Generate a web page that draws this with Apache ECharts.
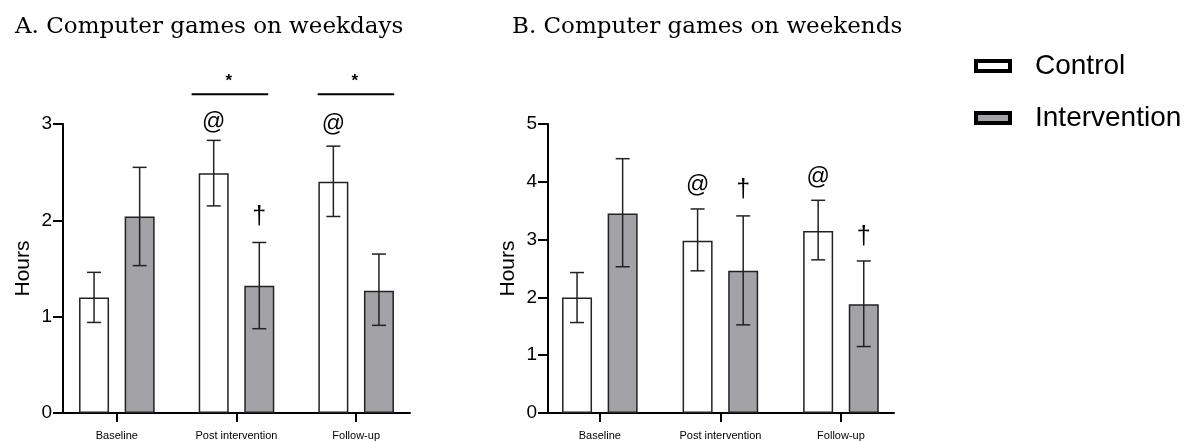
<!DOCTYPE html>
<html>
<head>
<meta charset="utf-8">
<script src="https://cdn.jsdelivr.net/npm/echarts@6/dist/echarts.min.js"></script>
<style>
html,body{margin:0;padding:0;background:#fff;}
#chart{width:1189px;height:441px;}
</style>
</head>
<body>
<div id="chart"></div>
<script>
// ---- data ----
const categories = ['Baseline', 'Post intervention', 'Follow-up'];
const yTicksA = [0, 1, 2, 3];
const yTicksB = [0, 1, 2, 3, 4, 5];

// A. weekdays
const controlA = [1.20, 2.49, 2.40];
const controlA_low = [0.94, 2.15, 2.04];
const controlA_high = [1.46, 2.83, 2.77];
const interventionA = [2.04, 1.32, 1.27];
const interventionA_low = [1.53, 0.875, 0.91];
const interventionA_high = [2.55, 1.77, 1.65];

// B. weekends
const controlB = [2.00, 2.98, 3.15];
const controlB_low = [1.565, 2.46, 2.65];
const controlB_high = [2.43, 3.53, 3.68];
const interventionB = [3.45, 2.46, 1.88];
const interventionB_low = [2.53, 1.525, 1.15];
const interventionB_high = [4.40, 3.41, 2.63];

// annotations: [category index, group (0 control, 1 intervention), y value, text]
const annotA = [[1, 0, 3.01, '@'], [2, 0, 2.99, '@'], [1, 1, 2.03, '†']];
const annotB = [[1, 0, 3.94, '@'], [1, 1, 3.86, '†'], [2, 0, 4.07, '@'], [2, 1, 3.04, '†']];
// significance bars in A: [x start, x end, y value, text]
const sigA = [[0.625, 1.265, 3.31, '*'], [1.678, 2.318, 3.31, '*']];

// ---- style ----
const BAR_W = 30;
const BAR_GAP = 0.52;
const HALF_STEP = (BAR_W + BAR_W * BAR_GAP) / 2;
const GRAY = '#a3a3a7';
const SANS = 'Liberation Sans, Arial, sans-serif';

const chart = echarts.init(document.getElementById('chart'), null, {renderer: 'canvas'});

function xAxisDef(gi, min, max) {
  return {
    gridIndex: gi, type: 'value', min: min, max: max,
    splitLine: {show: false},
    axisLine: {show: true, onZero: false, lineStyle: {color: '#000', width: 2}},
    axisTick: {show: true, customValues: [0, 1, 2], length: 9, lineStyle: {color: '#000', width: 2}},
    axisLabel: {customValues: [0, 1, 2], formatter: v => categories[Math.round(v)] || '',
      fontSize: 11, margin: 17, color: '#000', fontFamily: SANS}
  };
}
function yAxisDef(gi, ticks) {
  return {
    gridIndex: gi, type: 'value', min: ticks[0], max: ticks[ticks.length - 1], interval: 1,
    name: 'Hours', nameLocation: 'middle', nameRotate: 90, nameGap: 29,
    nameTextStyle: {fontSize: 21, color: '#000', fontFamily: SANS},
    splitLine: {show: false},
    axisLine: {show: true, onZero: false, lineStyle: {color: '#000', width: 2}},
    axisTick: {show: true, length: 10, lineStyle: {color: '#000', width: 2}},
    axisLabel: {fontSize: 19, margin: 11, color: '#000', fontFamily: SANS}
  };
}
function barSeries(name, gi, vals, color) {
  return {
    type: 'bar', name: name, xAxisIndex: gi, yAxisIndex: gi,
    data: vals.map((v, i) => [i, v]),
    barWidth: BAR_W, barGap: (BAR_GAP * 100) + '%',
    itemStyle: {color: color, borderColor: '#222', borderWidth: 1.5},
    z: 2
  };
}
function errSeries(gi, lows, highs, group) {
  const off = group === 0 ? -HALF_STEP : HALF_STEP;
  return {
    type: 'custom', xAxisIndex: gi, yAxisIndex: gi, z: 3,
    data: lows.map((l, i) => [i, l, highs[i]]),
    encode: {x: 0, y: [1, 2]},
    renderItem: function (params, api) {
      const pLo = api.coord([api.value(0), api.value(1)]);
      const pHi = api.coord([api.value(0), api.value(2)]);
      const cx = pLo[0] + off;
      const cap = 7;
      const st = {stroke: '#222', lineWidth: 1.5};
      return {type: 'group', children: [
        {type: 'line', shape: {x1: cx, y1: pLo[1], x2: cx, y2: pHi[1]}, style: st},
        {type: 'line', shape: {x1: cx - cap, y1: pLo[1], x2: cx + cap, y2: pLo[1]}, style: st},
        {type: 'line', shape: {x1: cx - cap, y1: pHi[1], x2: cx + cap, y2: pHi[1]}, style: st}
      ]};
    }
  };
}
function annotSeries(gi, ann) {
  return {
    type: 'custom', xAxisIndex: gi, yAxisIndex: gi, z: 4, clip: false,
    data: ann.map(a => [a[0], a[2]]),
    encode: {x: 0, y: 1},
    renderItem: function (params, api) {
      const a = ann[params.dataIndex];
      const p = api.coord([api.value(0), api.value(1)]);
      const off = a[1] === 0 ? -HALF_STEP : HALF_STEP;
      return {type: 'text', x: p[0] + off, y: p[1],
        style: {text: a[3], fontSize: a[3] === '@' ? 23 : 25, fontFamily: SANS, fill: '#000',
          align: 'center', verticalAlign: 'middle'}};
    }
  };
}
function sigSeries(gi, sig) {
  return {
    type: 'custom', xAxisIndex: gi, yAxisIndex: gi, z: 4, clip: false,
    data: sig.map(s => [s[0], s[1], s[2]]),
    encode: {x: [0, 1], y: 2},
    renderItem: function (params, api) {
      const s = sig[params.dataIndex];
      const p1 = api.coord([api.value(0), api.value(2)]);
      const p2 = api.coord([api.value(1), api.value(2)]);
      return {type: 'group', children: [
        {type: 'line', shape: {x1: p1[0], y1: p1[1], x2: p2[0], y2: p2[1]}, style: {stroke: '#000', lineWidth: 2}},
        {type: 'text', x: (p1[0] + p2[0]) / 2 - 1, y: p1[1] - 13,
          style: {text: s[3], fontSize: 17, fontWeight: 'bold', fontFamily: SANS, fill: '#000', align: 'center', verticalAlign: 'middle'}}
      ]};
    }
  };
}

const option = {
  animation: false,
  backgroundColor: '#fff',
  title: [
    {text: 'A. Computer games on weekdays', left: 10, top: 11,
      textStyle: {fontSize: 23, fontWeight: 'normal', color: '#000', fontFamily: 'DejaVu Serif, serif'}},
    {text: 'B. Computer games on weekends', left: 507, top: 11,
      textStyle: {fontSize: 23, fontWeight: 'normal', color: '#000', fontFamily: 'DejaVu Serif, serif'}}
  ],
  legend: {
    orient: 'vertical', left: 969, top: 47, itemWidth: 34, itemHeight: 10, itemGap: 24,
    textStyle: {fontSize: 28, color: '#000', fontFamily: SANS, padding: [0, 0, 0, 20]},
    data: [
      {name: 'Control', icon: 'rect', itemStyle: {color: '#fff', borderColor: '#000', borderWidth: 4}},
      {name: 'Intervention', icon: 'rect', itemStyle: {color: GRAY, borderColor: '#000', borderWidth: 4}}
    ]
  },
  grid: [
    {left: 63, top: 124, width: 347, bottom: 28},
    {left: 548, top: 124, width: 346, bottom: 28}
  ],
  xAxis: [xAxisDef(0, -0.45, 2.45), xAxisDef(1, -0.43, 2.44)],
  yAxis: [yAxisDef(0, yTicksA), yAxisDef(1, yTicksB)],
  series: [
    barSeries('Control', 0, controlA, '#fff'),
    barSeries('Intervention', 0, interventionA, GRAY),
    barSeries('Control', 1, controlB, '#fff'),
    barSeries('Intervention', 1, interventionB, GRAY),
    errSeries(0, controlA_low, controlA_high, 0),
    errSeries(0, interventionA_low, interventionA_high, 1),
    errSeries(1, controlB_low, controlB_high, 0),
    errSeries(1, interventionB_low, interventionB_high, 1),
    annotSeries(0, annotA),
    annotSeries(1, annotB),
    sigSeries(0, sigA)
  ]
};
chart.setOption(option);
</script>
</body>
</html>
